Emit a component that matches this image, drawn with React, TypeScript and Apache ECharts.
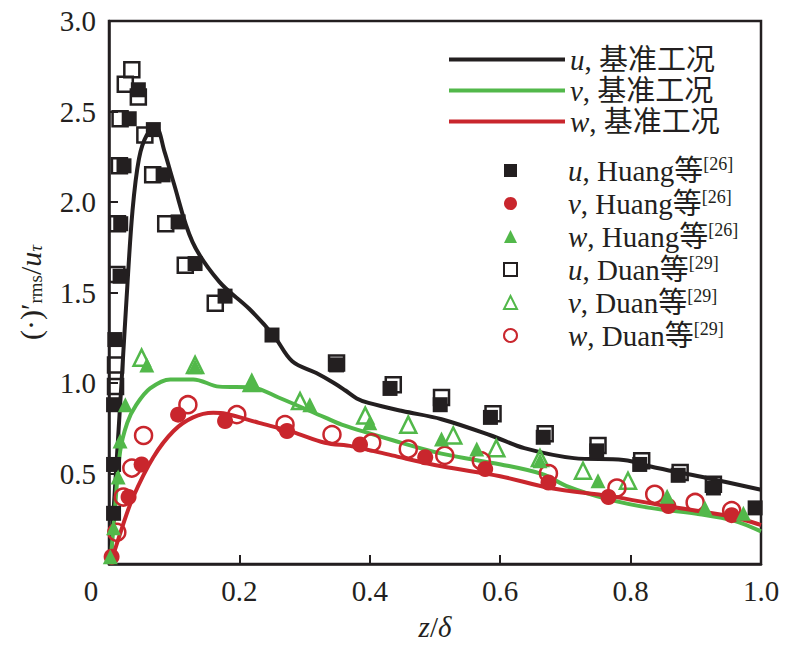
import React, { useEffect, useRef } from 'react';
import * as echarts from 'echarts';

// 基准工况 curves (z/δ, value)
const uLineX = [0.002, 0.008, 0.014, 0.02, 0.027, 0.036, 0.046, 0.058, 0.072, 0.085, 0.098, 0.128, 0.169, 0.215, 0.253, 0.281, 0.318, 0.345, 0.362, 0.38, 0.398, 0.45, 0.51, 0.586, 0.637, 0.713, 0.789, 0.841, 0.917, 1.0];
const uLineY = [0, 0.35, 0.7, 1.05, 1.47, 1.95, 2.24, 2.37, 2.41, 2.28, 2.12, 1.78, 1.56, 1.41, 1.26, 1.12, 1.055, 1.0, 0.96, 0.915, 0.89, 0.845, 0.8, 0.71, 0.64, 0.585, 0.575, 0.53, 0.475, 0.41];
const vLineX = [0.002, 0.008, 0.017, 0.028, 0.042, 0.063, 0.094, 0.129, 0.169, 0.22, 0.26, 0.331, 0.357, 0.434, 0.51, 0.601, 0.666, 0.702, 0.763, 0.83, 0.906, 0.958, 1.0];
const vLineY = [0, 0.25, 0.62, 0.78, 0.88, 0.97, 1.02, 1.02, 0.98, 0.975, 0.92, 0.81, 0.77, 0.685, 0.61, 0.55, 0.495, 0.43, 0.36, 0.31, 0.275, 0.24, 0.18];
const wLineX = [0.004, 0.02, 0.037, 0.068, 0.099, 0.129, 0.16, 0.179, 0.23, 0.281, 0.331, 0.373, 0.434, 0.51, 0.6, 0.676, 0.768, 0.855, 0.957, 1.0];
const wLineY = [0.02, 0.2, 0.37, 0.59, 0.735, 0.81, 0.835, 0.83, 0.78, 0.73, 0.67, 0.65, 0.6, 0.54, 0.485, 0.42, 0.375, 0.32, 0.26, 0.215];

// Huang等[26]
const huangUX = [0.007, 0.007, 0.007, 0.009, 0.017, 0.018, 0.023, 0.031, 0.045, 0.068, 0.083, 0.106, 0.132, 0.178, 0.25, 0.349, 0.431, 0.508, 0.585, 0.666, 0.748, 0.814, 0.873, 0.927, 0.991];
const huangUY = [0.28, 0.55, 0.88, 1.24, 1.59, 1.88, 2.2, 2.46, 2.62, 2.4, 2.15, 1.89, 1.66, 1.48, 1.265, 1.1, 0.97, 0.88, 0.81, 0.7, 0.625, 0.55, 0.49, 0.42, 0.31];
const huangVX = [0.004, 0.03, 0.05, 0.106, 0.178, 0.273, 0.385, 0.485, 0.577, 0.674, 0.766, 0.858, 0.955];
const huangVY = [0.04, 0.37, 0.55, 0.825, 0.79, 0.735, 0.66, 0.59, 0.525, 0.45, 0.37, 0.32, 0.27];
const huangWX = [0.002, 0.007, 0.014, 0.017, 0.025, 0.058, 0.132, 0.219, 0.308, 0.4, 0.51, 0.564, 0.661, 0.75, 0.856, 0.914, 0.973];
const huangWY = [0.04, 0.2, 0.48, 0.68, 0.88, 1.1, 1.09, 1.0, 0.88, 0.78, 0.69, 0.635, 0.57, 0.46, 0.375, 0.31, 0.28];

// Duan等[29]
const duanUX = [0.01, 0.01, 0.012, 0.013, 0.016, 0.017, 0.025, 0.035, 0.045, 0.055, 0.067, 0.087, 0.117, 0.163, 0.349, 0.436, 0.51, 0.589, 0.669, 0.75, 0.817, 0.876, 0.927];
const duanUY = [1.1, 0.98, 1.6, 1.88, 2.2, 2.46, 2.65, 2.73, 2.58, 2.37, 2.15, 1.88, 1.65, 1.44, 1.11, 0.99, 0.92, 0.83, 0.72, 0.655, 0.57, 0.505, 0.44];
const duanVX = [0.05, 0.132, 0.219, 0.293, 0.393, 0.459, 0.528, 0.594, 0.661, 0.727, 0.796];
const duanVY = [1.14, 1.1, 1.0, 0.9, 0.82, 0.77, 0.71, 0.64, 0.585, 0.515, 0.46];
const duanWX = [0.012, 0.022, 0.035, 0.053, 0.121, 0.196, 0.27, 0.342, 0.403, 0.459, 0.515, 0.571, 0.674, 0.779, 0.837, 0.899, 0.955];
const duanWY = [0.175, 0.37, 0.53, 0.71, 0.88, 0.825, 0.77, 0.715, 0.67, 0.635, 0.6, 0.57, 0.5, 0.42, 0.385, 0.34, 0.295];

const BLACK = '#231f20';
const GREEN = '#52b84a';
const RED = '#c9262d';
const FONT = '"Liberation Serif", "Times New Roman", "Noto Sans CJK SC", serif';

const pairs = (xs: number[], ys: number[]) => xs.map((x, i) => [x, ys[i]]);

const lineNames = ['u, 基准工况', 'v, 基准工况', 'w, 基准工况'];
const dotNames = ['u, Huang等[26]', 'v, Huang等[26]', 'w, Huang等[26]', 'u, Duan等[29]', 'v, Duan等[29]', 'w, Duan等[29]'];

const legendLabel = (name: string) => {
  const m = name.match(/^(\w), (.*?)(\[\d+\])?$/);
  if (!m) return name;
  return `{i|${m[1]}}{n|, ${m[2]}}` + (m[3] ? `{s|${m[3]}}` : '');
};

const legendRich = {
  i: { fontFamily: FONT, fontStyle: 'italic', fontSize: 29, lineHeight: 31, color: BLACK },
  n: { fontFamily: FONT, fontSize: 29, lineHeight: 31, color: BLACK },
  s: { fontFamily: FONT, fontSize: 18, color: BLACK, verticalAlign: 'top' },
};

const App: React.FC = () => {
  const chartRef = useRef<HTMLDivElement>(null);

  useEffect(() => {
    document.body.style.margin = '0';
    if (!chartRef.current) return;
    const chart = echarts.init(chartRef.current, undefined, { renderer: 'svg' });

    const lineSeries = (name: string, xs: number[], ys: number[], color: string) => ({
      name,
      type: 'line',
      data: pairs(xs, ys),
      smooth: 0.35,
      symbol: 'none',
      lineStyle: { color, width: 4 },
      itemStyle: { color },
      z: 2,
    });

    const dotSeries = (name: string, xs: number[], ys: number[], symbol: string, size: number, color: string, hollow: boolean) => ({
      name,
      type: 'scatter',
      data: pairs(xs, ys),
      symbol,
      symbolSize: size,
      itemStyle: hollow
        ? { color: 'rgba(255,255,255,0)', borderColor: color, borderWidth: 2.5, opacity: 1 }
        : { color, opacity: 1 },
      z: hollow ? 3 : 4,
    });

    const option: echarts.EChartsOption = {
      animation: false,
      grid: { left: 109, right: 35, top: 21, bottom: 79, show: true, borderColor: BLACK, borderWidth: 2.5 },
      legend: [
        {
          data: lineNames,
          orient: 'vertical',
          left: 444,
          top: 39,
          icon: 'rect',
          itemWidth: 116,
          itemHeight: 4,
          itemGap: 0,
          formatter: legendLabel,
          textStyle: { lineHeight: 31, rich: legendRich as any },
        },
        {
          data: dotNames,
          orient: 'vertical',
          left: 498,
          top: 150,
          itemWidth: 13,
          itemHeight: 13,
          itemGap: 2,
          formatter: legendLabel,
          textStyle: { lineHeight: 31, padding: [0, 0, 0, 46], rich: legendRich as any },
        },
      ],
      xAxis: {
        type: 'value',
        min: 0,
        max: 1,
        interval: 0.2,
        name: '{i|z}{n|/}{i|δ}',
        nameLocation: 'middle',
        nameGap: 48,
        nameTextStyle: {
          rich: {
            i: { fontFamily: FONT, fontStyle: 'italic', fontSize: 29, color: BLACK },
            n: { fontFamily: FONT, fontSize: 29, color: BLACK },
          },
        },
        axisLine: { lineStyle: { color: BLACK, width: 2.5 } },
        axisTick: { inside: true, length: 9, lineStyle: { color: BLACK, width: 2 } },
        splitLine: { show: false },
        axisLabel: {
          margin: 12,
          fontFamily: FONT,
          fontSize: 29,
          color: BLACK,
          formatter: (v: number) => (v === 0 ? '{z|0}' : v.toFixed(1)),
          rich: { z: { fontFamily: FONT, fontSize: 29, color: BLACK, padding: [0, 36, 0, 0] } },
        },
      },
      yAxis: {
        type: 'value',
        min: 0,
        max: 3,
        interval: 0.5,
        name: '{n|(·)′}{s|rms}{n|/}{i|u}{t|τ}',
        nameLocation: 'middle',
        nameRotate: 90,
        nameGap: 64,
        nameTextStyle: {
          rich: {
            n: { fontFamily: FONT, fontSize: 30, color: BLACK },
            i: { fontFamily: FONT, fontStyle: 'italic', fontSize: 30, color: BLACK },
            s: { fontFamily: FONT, fontSize: 19, color: BLACK, verticalAlign: 'bottom' },
            t: { fontFamily: FONT, fontStyle: 'italic', fontSize: 19, color: BLACK, verticalAlign: 'bottom' },
          },
        },
        axisLine: { lineStyle: { color: BLACK, width: 2.5 } },
        axisTick: { inside: true, length: 9, lineStyle: { color: BLACK, width: 2 } },
        splitLine: { show: false },
        axisLabel: {
          margin: 13,
          fontFamily: FONT,
          fontSize: 29,
          color: BLACK,
          formatter: (v: number) => (v === 0 ? '' : v.toFixed(1)),
        },
      },
      series: [
        lineSeries(lineNames[0], uLineX, uLineY, BLACK),
        lineSeries(lineNames[1], vLineX, vLineY, GREEN),
        lineSeries(lineNames[2], wLineX, wLineY, RED),
        dotSeries(dotNames[3], duanUX, duanUY, 'rect', 15, BLACK, true),
        dotSeries(dotNames[4], duanVX, duanVY, 'triangle', 16, GREEN, true),
        dotSeries(dotNames[5], duanWX, duanWY, 'circle', 17, RED, true),
        dotSeries(dotNames[0], huangUX, huangUY, 'rect', 15, BLACK, false),
        dotSeries(dotNames[1], huangVX, huangVY, 'circle', 16, RED, false),
        dotSeries(dotNames[2], huangWX, huangWY, 'triangle', 15, GREEN, false),
      ] as any,
    };

    chart.setOption(option);
    return () => chart.dispose();
  }, []);

  return <div ref={chartRef} style={{ width: 796, height: 646 }} />;
};

export default App;
